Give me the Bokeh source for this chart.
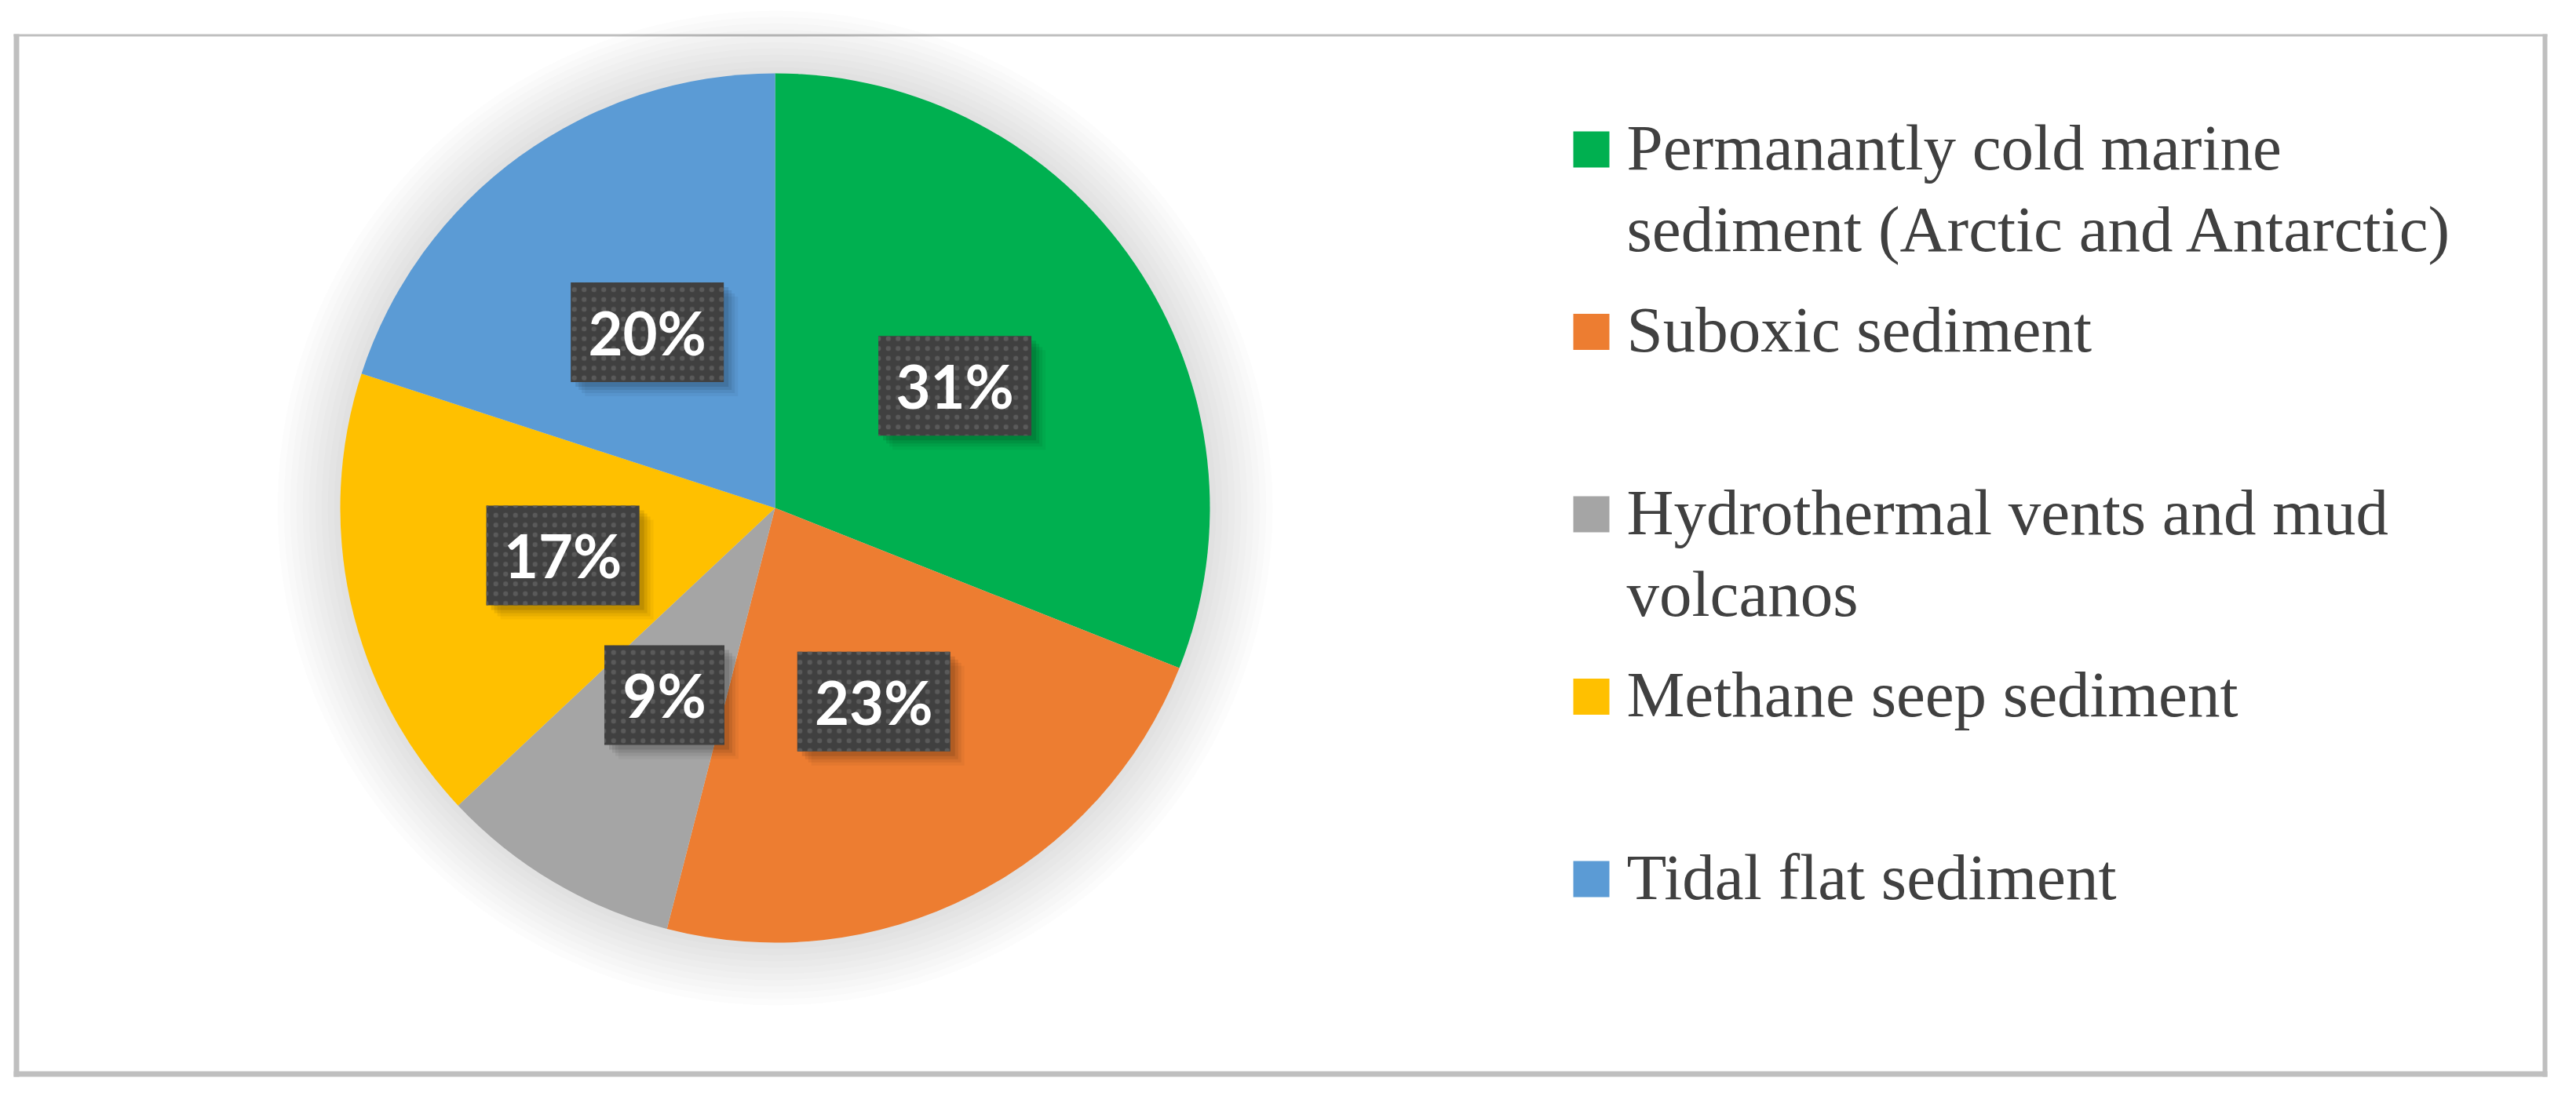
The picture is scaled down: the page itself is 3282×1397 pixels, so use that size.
import numpy as np
from bokeh.plotting import figure
from bokeh.models import Range1d, ColumnDataSource
from bokeh.embed import file_html
from bokeh.resources import INLINE
from bokeh.core.properties import value

# ---- data ----
categories = [
    "Permanantly cold marine\nsediment (Arctic and Antarctic)",
    "Suboxic sediment",
    "Hydrothermal vents and mud\nvolcanos",
    "Methane seep sediment",
    "Tidal flat sediment",
]
values = [31, 23, 9, 17, 20]
colors = ["#00B050", "#ED7D31", "#A5A5A5", "#FFC000", "#5B9BD5"]

# ---- layout (reference pixel space) ----
W, H = 3266, 1381
OFF = 0
REF_H = 1397


def Y(py):
    return REF_H - py


p = figure(width=W, height=H,
           x_range=Range1d(OFF, OFF + W),
           y_range=Range1d(REF_H - OFF - H, REF_H - OFF),
           output_backend="svg", toolbar_location=None,
           x_axis_type=None, y_axis_type=None, min_border=0)
p.outline_line_color = None
p.background_fill_color = "white"
p.border_fill_color = "white"

# frame border
p.quad(left=[17, 17, 3239, 17], right=[24, 3245, 3245, 3245],
       top=[Y(43), Y(43), Y(43), Y(1365)], bottom=[Y(1372), Y(46), Y(1372), Y(1372)],
       fill_color="#BFBFBF", line_color=None)

cx, cy, R = 987, Y(647), 554

# soft shadow around the pie
for k in range(10, 0, -1):
    p.circle(x=[cx], y=[cy], radius=R + 8 * k, fill_color="black",
             fill_alpha=0.013, line_color=None)

vals = np.array(values, dtype=float)
frac = vals / vals.sum()
cum_end = np.cumsum(frac)
cum_start = cum_end - frac
start = np.pi / 2 - 2 * np.pi * cum_start
end = np.pi / 2 - 2 * np.pi * cum_end

src = ColumnDataSource(dict(start=start, end=end, color=colors))
p.wedge(x=cx, y=cy, radius=R, start_angle="start", end_angle="end",
        direction="clock", fill_color="color", line_color=None, source=src)

# data labels
mid = (cum_start + cum_end) / 2
ang = np.pi / 2 - 2 * np.pi * mid
lx = cx + 0.5 * R * np.cos(ang)
ly = cy + 0.5 * R * np.sin(ang)
texts = [f"{v}%" for v in values]
bw = [111 + 42 * len(str(v)) for v in values]
lsrc = ColumnDataSource(dict(x=lx, y=ly, text=texts, w=bw))

for off, a in [(18, 0.04), (14, 0.06), (10, 0.08), (6, 0.10)]:
    ssrc = ColumnDataSource(dict(x=lx + off, y=ly - off, w=bw))
    p.rect(x="x", y="y", width="w", height=127, width_units="screen",
           height_units="screen", fill_color="black", fill_alpha=a,
           line_color=None, source=ssrc)

p.rect(x="x", y="y", width="w", height=127, width_units="screen",
       height_units="screen", fill_color="#404040", line_color=None,
       hatch_pattern="dot", hatch_color="#5A5A5A", hatch_scale=12.5,
       hatch_weight=5, source=lsrc)
p.text(x="x", y="y", text="text", text_font=value("Lato"),
       text_font_style="bold", text_font_size="76px", text_color="white",
       text_align="center", text_baseline="middle", source=lsrc)

# legend
base0, step, line_gap = 213, 232.5, 104
sq_x, sq_y, tx, ty, tt = [], [], [], [], []
for i, cat in enumerate(categories):
    b = base0 + step * i
    sq_x.append(2027)
    sq_y.append(Y(b - 23))
    for j, line in enumerate(cat.split("\n")):
        tx.append(2072)
        ty.append(Y(b - 26 + j * line_gap))
        tt.append(line)

p.rect(x=sq_x, y=sq_y, width=46, height=46, fill_color=colors, line_color=None)
p.text(x=tx, y=ty, text=tt, text_font=value("Liberation Serif"),
       text_font_size="83px", text_color="#404040", text_align="left",
       text_baseline="alphabetic")

open("out.html", "w").write(file_html(p, INLINE))
